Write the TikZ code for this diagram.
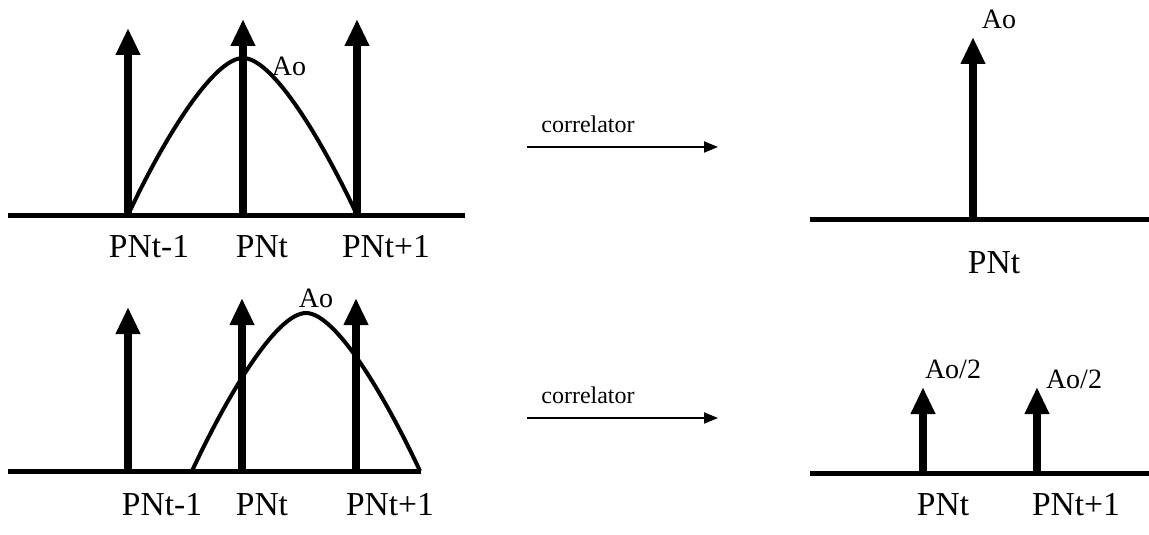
\documentclass[tikz,border=0pt]{standalone}
\usepackage{fontspec}
\setmainfont{Liberation Serif}
\usetikzlibrary{arrows.meta}
\begin{document}
\begin{tikzpicture}[x=1pt,y=-1pt,
  axis/.style={line width=5pt},
  spike/.style={line width=8pt,-{Triangle[length=27pt,width=23pt]}},
  curve/.style={line width=4pt},
  corr/.style={line width=2pt,-{Triangle[length=14pt,width=11pt]}},
  lbl/.style={anchor=base,inner sep=0pt,font=\fontsize{33.5}{38}\selectfont},
  amp/.style={anchor=base,inner sep=0pt,font=\fontsize{28}{32}\selectfont},
  clbl/.style={anchor=base,inner sep=0pt,font=\fontsize{24}{28}\selectfont}]
\useasboundingbox (0,0) rectangle (1149,535);

% ---------- top left ----------
\coordinate (tla) at (8,215);
\coordinate (tlb) at (465,215);
\draw[axis] (tla) -- (tlb);
\coordinate (tl1b) at (128,217); \coordinate (tl1t) at (128,28);
\coordinate (tl2b) at (243,217); \coordinate (tl2t) at (243,19);
\coordinate (tl3b) at (357,217); \coordinate (tl3t) at (357,19);
\draw[curve] (128,215) .. controls (162,142) and (213,58) .. (243,58)
             .. controls (273,58) and (323,142) .. (357,215);
\draw[spike] (tl1b) -- (tl1t);
\draw[spike] (tl2b) -- (tl2t);
\draw[spike] (tl3b) -- (tl3t);
\node[amp] (tlA) at (289,75) {Ao};
\node[lbl] (tlL1) at (149,257) {PNt-1};
\node[lbl] (tlL2) at (262,257) {PNt};
\node[lbl] (tlL3) at (386,257) {PNt+1};

% ---------- bottom left ----------
\coordinate (bla) at (8,471);
\coordinate (blb) at (421,471);
\draw[axis] (bla) -- (blb);
\coordinate (bl1b) at (128,473); \coordinate (bl1t) at (128,307);
\coordinate (bl2b) at (242,473); \coordinate (bl2t) at (242,298);
\coordinate (bl3b) at (356,473); \coordinate (bl3t) at (356,298);
\draw[curve] (192,471) .. controls (226,398) and (276,313) .. (306,313)
             .. controls (336,313) and (386,398) .. (420,471);
\draw[spike] (bl1b) -- (bl1t);
\draw[spike] (bl2b) -- (bl2t);
\draw[spike] (bl3b) -- (bl3t);
\node[amp] (blA) at (316,307) {Ao};
\node[lbl] (blL1) at (162,515) {PNt-1};
\node[lbl] (blL2) at (262,515) {PNt};
\node[lbl] (blL3) at (390,515) {PNt+1};

% ---------- correlator arrows ----------
\coordinate (c1a) at (527,147); \coordinate (c1b) at (718,147);
\draw[corr] (c1a) -- (c1b);
\node[clbl] (c1t) at (588,132) {correlator};
\coordinate (c2a) at (527,418); \coordinate (c2b) at (718,418);
\draw[corr] (c2a) -- (c2b);
\node[clbl] (c2t) at (588,403) {correlator};

% ---------- top right ----------
\coordinate (tra) at (810,219);
\coordinate (trb) at (1149,219);
\draw[axis] (tra) -- (trb);
\coordinate (tr1b) at (973,221); \coordinate (tr1t) at (973,37);
\draw[spike] (tr1b) -- (tr1t);
\node[amp] (trA) at (999,29) {Ao};
\node[lbl] (trL) at (994,273) {PNt};

% ---------- bottom right ----------
\coordinate (bra) at (810,473);
\coordinate (brb) at (1149,473);
\draw[axis] (bra) -- (brb);
\coordinate (br1b) at (923,475); \coordinate (br1t) at (923,387);
\coordinate (br2b) at (1037,475); \coordinate (br2t) at (1037,387);
\draw[spike] (br1b) -- (br1t);
\draw[spike] (br2b) -- (br2t);
\node[amp] (brA1) at (953,378) {Ao/2};
\node[amp] (brA2) at (1074,388) {Ao/2};
\node[lbl] (brL1) at (943,515) {PNt};
\node[lbl] (brL2) at (1076,515) {PNt+1};
\end{tikzpicture}
\end{document}
